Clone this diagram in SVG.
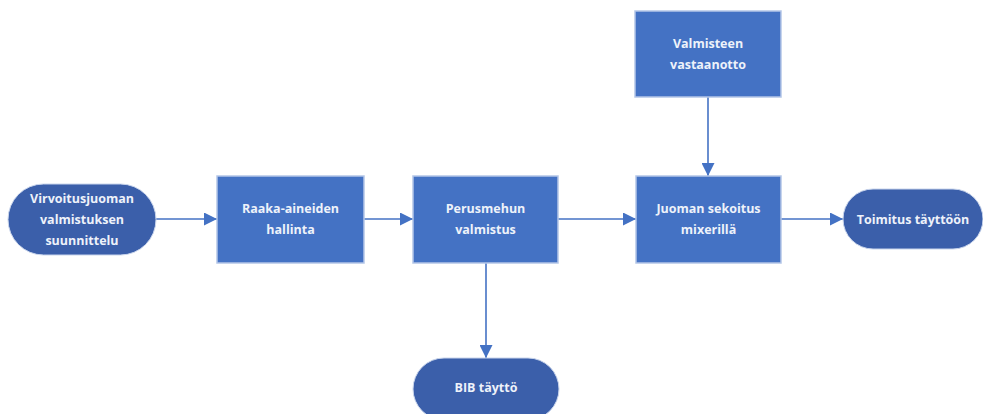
<svg xmlns="http://www.w3.org/2000/svg" width="983" height="414" viewBox="0 0 983 414">
  <defs>
    <marker id="arrow" viewBox="0 0 10 10" refX="10" refY="5" markerWidth="13" markerHeight="13" markerUnits="userSpaceOnUse" orient="auto">
      <path d="M0,0 L10,5 L0,10 Z" fill="#4472C4"/>
    </marker>
    <style>
      .box { fill: #4472C4; stroke: #b4c6e7; stroke-width: 1.5; }
      .pill { fill: #3B5FAA; stroke: #c9d5ec; stroke-width: 1; }
      .lbl { font-family: "Open Sans", "Liberation Sans", sans-serif; font-size: 12.5px; font-weight: bold; fill: #eef2fa; text-anchor: middle; }
      .conn { stroke: #4472C4; stroke-width: 1.6; fill: none; marker-end: url(#arrow); }
    </style>
  </defs>
  <rect width="983" height="414" fill="#ffffff"/>

  <g id="connectors">
    <line class="conn" x1="156" y1="219" x2="217" y2="219"/>
    <line class="conn" x1="364" y1="219" x2="413" y2="219"/>
    <line class="conn" x1="558" y1="219" x2="636" y2="219"/>
    <line class="conn" x1="781" y1="219" x2="843" y2="219"/>
    <line class="conn" x1="708" y1="97" x2="708" y2="176"/>
    <line class="conn" x1="486" y1="263" x2="486" y2="358"/>
  </g>

  <g id="suunnittelu">
    <rect class="pill" x="8" y="184" width="148" height="71" rx="35.5"/>
    <text class="lbl" x="82" y="203">Virvoitusjuoman</text>
    <text class="lbl" x="82" y="224">valmistuksen</text>
    <text class="lbl" x="82" y="245">suunnittelu</text>
  </g>

  <g id="raaka-aineet">
    <rect class="box" x="217" y="176" width="147" height="87"/>
    <text class="lbl" x="290.5" y="213">Raaka-aineiden</text>
    <text class="lbl" x="290.5" y="234">hallinta</text>
  </g>

  <g id="perusmehu">
    <rect class="box" x="413" y="176" width="145" height="87"/>
    <text class="lbl" x="485.5" y="213">Perusmehun</text>
    <text class="lbl" x="485.5" y="234">valmistus</text>
  </g>

  <g id="vastaanotto">
    <rect class="box" x="635" y="11" width="146" height="86"/>
    <text class="lbl" x="708" y="48">Valmisteen</text>
    <text class="lbl" x="708" y="69">vastaanotto</text>
  </g>

  <g id="sekoitus">
    <rect class="box" x="636" y="176" width="145" height="87"/>
    <text class="lbl" x="708.5" y="213">Juoman sekoitus</text>
    <text class="lbl" x="708.5" y="234">mixerillä</text>
  </g>

  <g id="toimitus">
    <rect class="pill" x="843" y="189" width="140" height="60" rx="30"/>
    <text class="lbl" x="913" y="223.5">Toimitus täyttöön</text>
  </g>

  <g id="bib">
    <rect class="pill" x="413" y="358" width="146" height="62" rx="31"/>
    <text class="lbl" x="486" y="392">BIB täyttö</text>
  </g>
</svg>
